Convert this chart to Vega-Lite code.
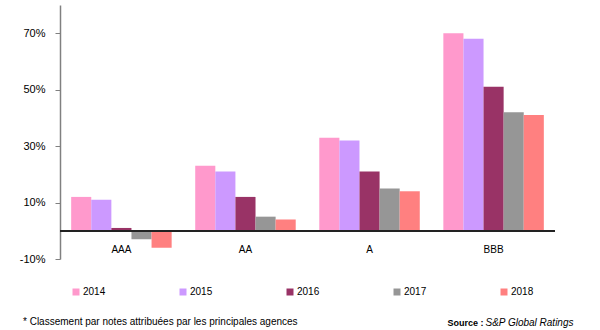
{
  "$schema": "https://vega.github.io/schema/vega-lite/v6.json",
  "width": 495,
  "height": 254,
  "autosize": "none",
  "padding": {"left": 60, "top": 5, "right": 45, "bottom": 71},
  "background": "white",
  "config": {
    "view": {"stroke": null},
    "font": "Liberation Sans"
  },
  "title": {
    "text": "* Classement par notes attribuées par les principales agences",
    "orient": "bottom",
    "anchor": "start",
    "frame": "group",
    "fontSize": 10,
    "fontWeight": "normal",
    "color": "#000",
    "dx": -37,
    "offset": -10
  },
  "data": {
    "values": [
      {"note": "AAA", "annee": "2014", "v": 12},
      {"note": "AAA", "annee": "2015", "v": 11},
      {"note": "AAA", "annee": "2016", "v": 1},
      {"note": "AAA", "annee": "2017", "v": -3},
      {"note": "AAA", "annee": "2018", "v": -6},
      {"note": "AA", "annee": "2014", "v": 23},
      {"note": "AA", "annee": "2015", "v": 21},
      {"note": "AA", "annee": "2016", "v": 12},
      {"note": "AA", "annee": "2017", "v": 5},
      {"note": "AA", "annee": "2018", "v": 4},
      {"note": "A", "annee": "2014", "v": 33},
      {"note": "A", "annee": "2015", "v": 32},
      {"note": "A", "annee": "2016", "v": 21},
      {"note": "A", "annee": "2017", "v": 15},
      {"note": "A", "annee": "2018", "v": 14},
      {"note": "BBB", "annee": "2014", "v": 70},
      {"note": "BBB", "annee": "2015", "v": 68},
      {"note": "BBB", "annee": "2016", "v": 51},
      {"note": "BBB", "annee": "2017", "v": 42},
      {"note": "BBB", "annee": "2018", "v": 41}
    ]
  },
  "layer": [
    {
      "mark": {"type": "bar"},
      "encoding": {
        "x": {
          "field": "note",
          "type": "nominal",
          "sort": ["AAA", "AA", "A", "BBB"],
          "scale": {"paddingInner": 0.19, "paddingOuter": 0.09},
          "axis": {
            "orient": "bottom",
            "domain": false,
            "ticks": false,
            "labelAngle": 0,
            "labelPadding": -15,
            "labelFontSize": 10,
            "labelColor": "#000",
            "title": "S&P Global Ratings",
            "titleFontStyle": "italic",
            "titleFontWeight": "normal",
            "titleFontSize": 10,
            "titleColor": "#000",
            "titleX": 513,
            "titleY": 63,
            "titleAlign": "right",
            "titleBaseline": "middle"
          }
        },
        "xOffset": {"field": "annee", "type": "nominal", "scale": {"paddingInner": 0}},
        "y": {
          "field": "v",
          "type": "quantitative",
          "scale": {"domain": [-10, 80], "nice": false},
          "axis": {
            "values": [-10, 10, 30, 50, 70],
            "labelExpr": "datum.value + '%'",
            "grid": false,
            "domainColor": "#808080",
            "domainWidth": 1.5,
            "tickColor": "#808080",
            "tickSize": 5,
            "labelFontSize": 11,
            "labelColor": "#000",
            "labelPadding": 10,
            "title": "Source :",
            "titleAngle": 0,
            "titleFontWeight": "bold",
            "titleFontSize": 9,
            "titleColor": "#000",
            "titleX": 387,
            "titleY": 317,
            "titleAlign": "left",
            "titleBaseline": "middle"
          }
        },
        "color": {
          "field": "annee",
          "type": "nominal",
          "scale": {
            "domain": ["2014", "2015", "2016", "2017", "2018"],
            "range": ["#FF99CC", "#CC99FF", "#993366", "#969696", "#FF8080"]
          },
          "legend": {
            "title": null,
            "orient": "none",
            "direction": "horizontal",
            "legendX": 11,
            "legendY": 282,
            "symbolType": "square",
            "symbolSize": 49,
            "symbolStrokeWidth": 0,
            "labelFontSize": 10,
            "labelColor": "#000",
            "labelOffset": 2,
            "columnPadding": 72
          }
        }
      }
    },
    {
      "mark": {"type": "rule", "color": "#222", "strokeWidth": 1.5},
      "encoding": {"y": {"datum": 0}}
    }
  ]
}
